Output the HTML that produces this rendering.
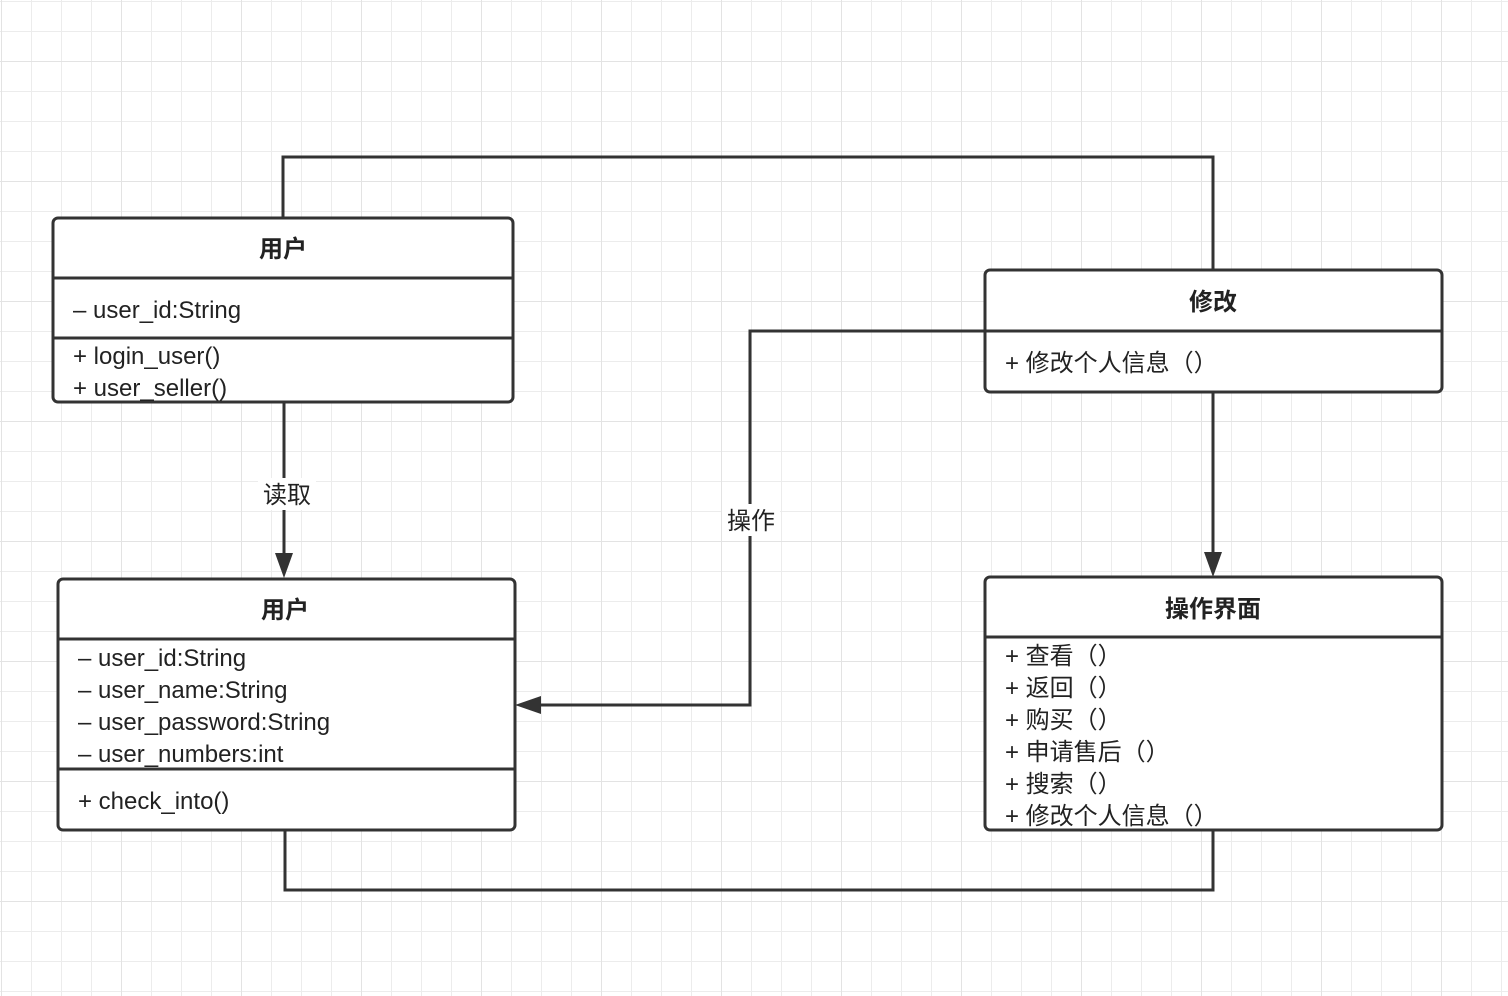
<!DOCTYPE html>
<html><head><meta charset="utf-8"><style>
html,body{margin:0;padding:0;background:#fff;}
svg{display:block;}
text{font-family:"Liberation Sans","Noto Sans CJK SC",sans-serif;fill:#222;font-size:24px;}
.h{font-weight:bold;text-anchor:middle;}
</style></head><body>
<svg width="1508" height="996" xmlns="http://www.w3.org/2000/svg">
<defs>
<pattern id="g" x="1" y="1" width="30" height="30" patternUnits="userSpaceOnUse">
<path d="M0 0H30M0 0V30" stroke="#ececec" stroke-width="2" fill="none"/>
</pattern>
<pattern id="G" x="1" y="61" width="120" height="120" patternUnits="userSpaceOnUse">
<path d="M0 0H120M0 0V120" stroke="#e3e3e3" stroke-width="2" fill="none"/>
</pattern>
</defs>
<rect width="1508" height="996" fill="#fff"/>
<rect width="1508" height="996" fill="url(#g)"/>
<rect width="1508" height="996" fill="url(#G)"/>

<g stroke="#333" stroke-width="3" fill="none">
<path d="M283 218V157H1213V270"/>
<path d="M284 402V556"/>
<path d="M985 331H750V705H538"/>
<path d="M1213 392V555"/>
<path d="M285 830V890H1213V830"/>
</g>
<g fill="#333">
<path d="M275 553L293 553L284 578Z"/>
<path d="M1204 552L1222 552L1213 577Z"/>
<path d="M541 696L541 714L515 705Z"/>
</g>
<rect x="258" y="478" width="58" height="32" fill="#fff"/>
<text x="287" y="503" style="text-anchor:middle">读取</text>
<rect x="722" y="504" width="58" height="32" fill="#fff"/>
<text x="751" y="529" style="text-anchor:middle">操作</text>

<g stroke="#333" stroke-width="3" fill="#fff">
<rect x="53" y="218" width="460" height="184" rx="5"/>
<rect x="58" y="579" width="457" height="251" rx="5"/>
<rect x="985" y="270" width="457" height="122" rx="5"/>
<rect x="985" y="577" width="457" height="253" rx="5"/>
</g>
<g stroke="#333" stroke-width="3">
<path d="M53 278H513M53 338H513"/>
<path d="M58 639H515M58 769H515"/>
<path d="M985 331H1442"/>
<path d="M985 637H1442"/>
</g>

<text class="h" x="283" y="257">用户</text>
<text x="73" y="318">– user_id:String</text>
<text x="73" y="364">+ login_user()</text>
<text x="73" y="396">+ user_seller()</text>

<text class="h" x="285" y="618">用户</text>
<text x="78" y="666">– user_id:String</text>
<text x="78" y="698">– user_name:String</text>
<text x="78" y="730">– user_password:String</text>
<text x="78" y="762">– user_numbers:int</text>
<text x="78" y="809">+ check_into()</text>

<text class="h" x="1213" y="310">修改</text>
<text x="1005" y="371">+ 修改个人信息（）</text>

<text class="h" x="1213" y="617">操作界面</text>
<text x="1005" y="664">+ 查看（）</text>
<text x="1005" y="696">+ 返回（）</text>
<text x="1005" y="728">+ 购买（）</text>
<text x="1005" y="760">+ 申请售后（）</text>
<text x="1005" y="792">+ 搜索（）</text>
<text x="1005" y="824">+ 修改个人信息（）</text>
</svg>
</body></html>
